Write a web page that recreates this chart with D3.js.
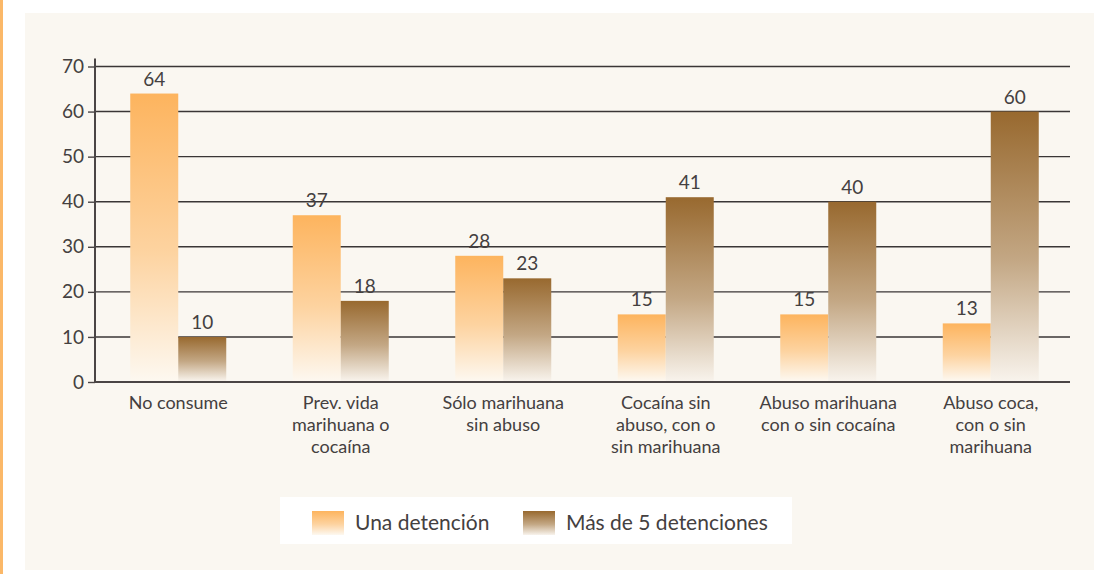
<!DOCTYPE html>
<html>
<head>
<meta charset="utf-8">
<script src="https://cdn.jsdelivr.net/npm/d3@7"></script>
<style>
  body { margin: 0; background: #fff; }
  svg { display: block; font-family: "Lato", "Open Sans", sans-serif; }
</style>
</head>
<body>
<svg id="chart" width="1094" height="574"></svg>
<script>
// data
const categories = [
  ["No consume"],
  ["Prev. vida", "marihuana o", "cocaína"],
  ["Sólo marihuana", "sin abuso"],
  ["Cocaína sin", "abuso, con o", "sin marihuana"],
  ["Abuso marihuana", "con o sin cocaína"],
  ["Abuso coca,", "con o sin", "marihuana"]
];
const series = ["Una detención", "Más de 5 detenciones"];
const unaDetencion = [64, 37, 28, 15, 15, 13];
const masDe5 = [10, 18, 23, 41, 40, 60];
const yTicks = [0, 10, 20, 30, 40, 50, 60, 70];

const svg = d3.select("#chart");
const textColor = "#444040";

// left orange stripe + cream panel
svg.append("rect").attr("x", 0).attr("y", 0).attr("width", 3).attr("height", 574).attr("fill", "#fbb868");
svg.append("rect").attr("x", 25).attr("y", 13).attr("width", 1069).attr("height", 557).attr("fill", "#faf7f1");

// gradients, each fades toward the bottom of its own bar
const defs = svg.append("defs");
function grad(id, c1, c2) {
  const g = defs.append("linearGradient").attr("id", id)
    .attr("x1", 0).attr("y1", 0).attr("x2", 0).attr("y2", 1);
  g.append("stop").attr("offset", "0%").attr("stop-color", c1);
  g.append("stop").attr("offset", "55%").attr("stop-color", d3.interpolateRgb(c1, c2)(0.45));
  g.append("stop").attr("offset", "100%").attr("stop-color", c2);
}
grad("gOrange", "#fdb45e", "#fdf8f0");
grad("gBrown", "#98692f", "#f8f3ec");
const fills = ["url(#gOrange)", "url(#gBrown)"];

const plotL = 95, plotR = 1070, plotT = 66.5, plotB = 382;

const x = d3.scaleBand().domain(d3.range(categories.length)).range([plotL, plotR]);
const xs = d3.scaleBand().domain([0, 1]).range([0, 96]);
const y = d3.scaleLinear().domain([0, 70]).range([plotB, plotT]);
const cx = i => x(i) + x.bandwidth() / 2 + 2;

// gridlines
svg.append("g").selectAll("line").data(yTicks.slice(1)).join("line")
  .attr("x1", plotL).attr("x2", plotR)
  .attr("y1", d => y(d)).attr("y2", d => y(d))
  .attr("stroke", "#3a3636").attr("stroke-width", 1.4);

// bars
const groups = svg.append("g").selectAll("g").data(categories).join("g")
  .attr("transform", (d, i) => `translate(${cx(i) - 48},0)`);

const vals = (d, i) => [unaDetencion[i], masDe5[i]];
groups.selectAll("rect").data(vals).join("rect")
  .attr("x", (d, j) => xs(j))
  .attr("width", xs.bandwidth())
  .attr("y", d => y(d))
  .attr("height", d => y(0) - 1 - y(d))
  .attr("fill", (d, j) => fills[j]);

groups.selectAll("text.val").data(vals).join("text")
  .attr("class", "val")
  .attr("x", (d, j) => xs(j) + xs.bandwidth() / 2)
  .attr("y", d => y(d) - 8)
  .attr("text-anchor", "middle")
  .attr("font-size", 19)
  .attr("fill", textColor)
  .text(d => d);

// y axis
const yAxis = d3.axisLeft(y).tickValues(yTicks).tickSize(7).tickPadding(4);
const ya = svg.append("g").attr("transform", `translate(${plotL},0)`).call(yAxis);
ya.select(".domain").attr("stroke", "#4a4545").attr("stroke-width", 2)
  .attr("d", `M0,${y(0)}V${plotT - 8}`);
ya.selectAll(".tick line").attr("stroke", "#4a4545").attr("stroke-width", 1.4);
ya.selectAll(".tick text").attr("font-size", 19).attr("fill", textColor)
  .attr("font-family", "Lato, sans-serif");

// baseline
svg.append("line").attr("x1", plotL).attr("x2", plotR)
  .attr("y1", y(0)).attr("y2", y(0))
  .attr("stroke", "#4a4545").attr("stroke-width", 2);

// category labels
svg.append("g").selectAll("text").data(categories).join("text")
  .attr("x", (d, i) => cx(i))
  .attr("y", 409)
  .attr("text-anchor", "middle")
  .attr("font-size", 18)
  .attr("fill", textColor)
  .each(function(d) {
    d3.select(this).selectAll("tspan").data(d).join("tspan")
      .attr("x", d3.select(this).attr("x"))
      .attr("dy", (t, k) => k === 0 ? 0 : 22)
      .text(t => t);
  });

// legend
const lg = svg.append("g");
lg.append("rect").attr("x", 280).attr("y", 497).attr("width", 512).attr("height", 47).attr("fill", "#fff");
const lx = [312, 523];
series.forEach((s, i) => {
  lg.append("rect").attr("x", lx[i]).attr("y", 511).attr("width", 32).attr("height", 24).attr("fill", fills[i]);
  lg.append("text").attr("x", lx[i] + 43).attr("y", 530)
    .attr("font-size", 21).attr("fill", textColor).text(s);
});
</script>
</body>
</html>
